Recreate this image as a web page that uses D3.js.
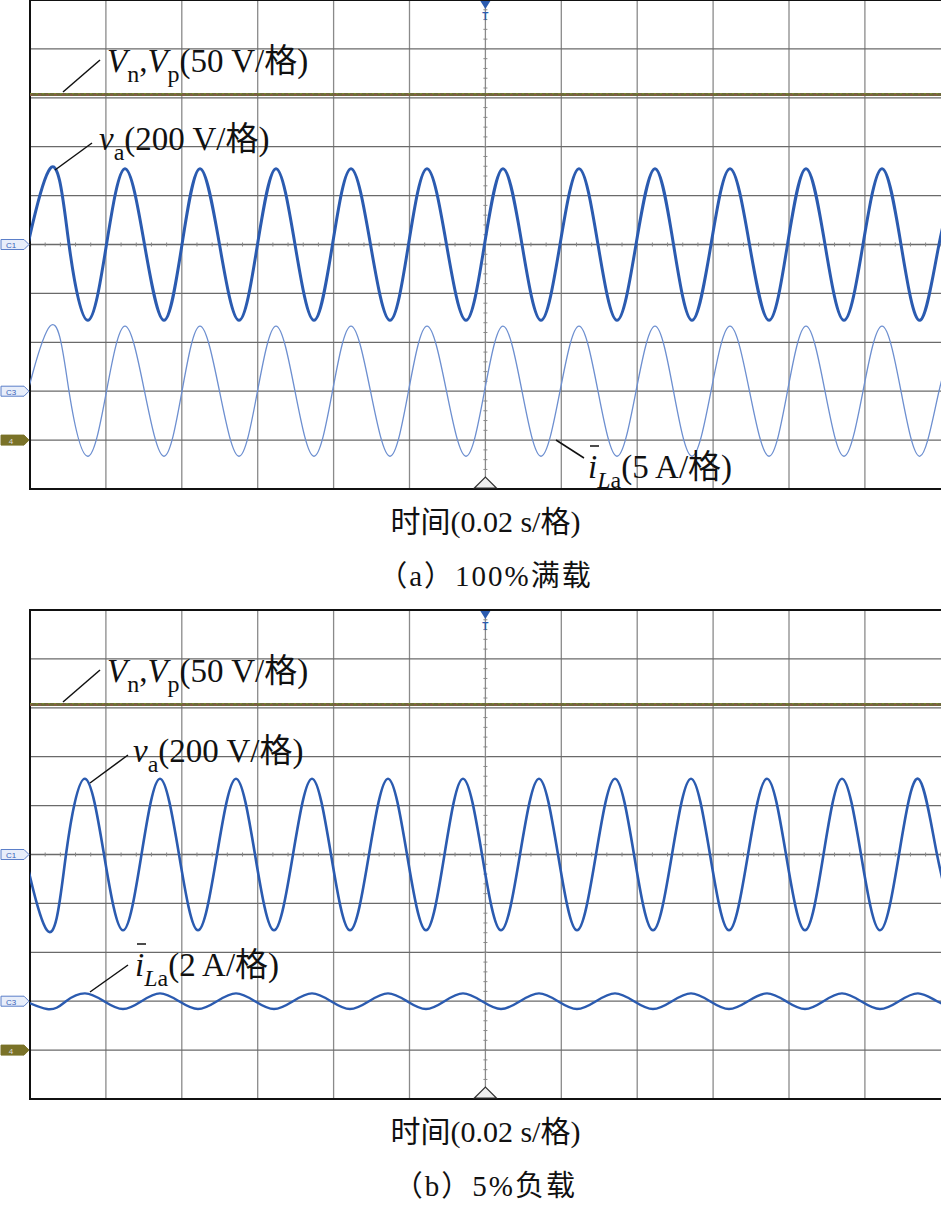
<!DOCTYPE html>
<html><head><meta charset="utf-8">
<script src="https://cdn.jsdelivr.net/npm/d3@7"></script>
<style>body{margin:0;background:#fff}svg{display:block}</style>
</head><body><svg id="c" width="941" height="1207"></svg>
<script>
const vaPeaksA   = [50,125,200,276,351,427,503,579,655,730,806,882];
const vaTroughsA = [88,164,239,314,390,466,541,617,692,769,844,920];
const vaPeaksB   = [85,160,236,312,388,463,539,615,691,767,842,918];
const vaTroughsB = [47,123,198,274,350,426,501,577,653,729,805,880];
const vaAmp = 1.55;
const iAmpA = 1.33, iAmpB = 0.16, iOffset = -3;
const vnLevel = 3.07;
const panels = [
  {top:0,   peaks:vaPeaksA, troughs:vaTroughsA, iAmp:iAmpA, iLabel:"(5 A/格)", caption:"（a）100%满载"},
  {top:610, peaks:vaPeaksB, troughs:vaTroughsB, iAmp:iAmpB, iLabel:"(2 A/格)", caption:"（b）5%负载"}
];
const svg = d3.select("#c");
const L=30, R=941, H=489;
const x = d3.scaleLinear().domain([0,12]).range([L, L+75.9*12]);
const pxToDiv = p => (p-L)/75.9;

function series(peaks, troughs, amp, off){
  let pts = peaks.map(p=>({t:pxToDiv(p), v:off+amp}))
    .concat(troughs.map(p=>({t:pxToDiv(p), v:off-amp})));
  pts.sort((a,b)=>a.t-b.t);
  const out=[];
  const f=pts[0], s=pts[1], l=pts[pts.length-1], m=pts[pts.length-2];
  out.push({t:f.t-(s.t-f.t), v:s.v});
  pts.forEach((p,i)=>{ out.push(p); if(i<pts.length-1) out.push({t:(p.t+pts[i+1].t)/2, v:off}); });
  out.push({t:l.t+(l.t-m.t)/2, v:off});
  out.push({t:l.t+(l.t-m.t), v:m.v});
  return out;
}

panels.forEach((P,pi)=>{
  const y = d3.scaleLinear().domain([-5,5]).range([P.top+H, P.top]);
  const g = svg.append("g");
  const cid="clip"+pi;
  g.append("clipPath").attr("id",cid).append("rect").attr("x",L).attr("y",P.top).attr("width",R-L).attr("height",H);
  d3.range(1,12).forEach(i=>g.append("line").attr("x1",x(i)).attr("x2",x(i)).attr("y1",P.top).attr("y2",P.top+H).attr("stroke","#8a8a8a").attr("stroke-width",1.3));
  d3.range(-4,5).forEach(i=>g.append("line").attr("x1",L).attr("x2",R).attr("y1",y(i)).attr("y2",y(i)).attr("stroke","#6a6a6a").attr("stroke-width",1.3));
  d3.range(0,12.01,0.2).forEach(t=>g.append("line").attr("x1",x(t)).attr("x2",x(t)).attr("y1",y(0)-2).attr("y2",y(0)+2).attr("stroke","#888"));
  d3.range(-5,5.01,0.2).forEach(v=>g.append("line").attr("x1",x(6)-2).attr("x2",x(6)+2).attr("y1",y(v)).attr("y2",y(v)).attr("stroke","#888"));
  g.append("path").attr("d",`M${R},${P.top}H${L}V${P.top+H}H${R}`).attr("fill","none").attr("stroke","#111").attr("stroke-width",2);
  const cg = g.append("g").attr("clip-path",`url(#${cid})`);
  const line = d3.line().x(d=>x(d.t)).y(d=>y(d.v)).curve(d3.curveNatural);
  cg.append("line").attr("x1",L).attr("x2",R).attr("y1",y(vnLevel)).attr("y2",y(vnLevel)).attr("stroke","#6e6a3a").attr("stroke-width",3);
  cg.append("line").attr("x1",L).attr("x2",R).attr("y1",y(vnLevel)+0.6).attr("y2",y(vnLevel)+0.6).attr("stroke","#9a5050").attr("stroke-width",1).attr("stroke-dasharray","3,5");
  cg.append("line").attr("x1",L).attr("x2",R).attr("y1",y(vnLevel)-0.8).attr("y2",y(vnLevel)-0.8).attr("stroke","#7a8a30").attr("stroke-width",1).attr("stroke-dasharray","2,4");
  cg.append("path").attr("d",line(series(P.peaks,P.troughs,vaAmp,0))).attr("fill","none").attr("stroke","#2b5bb0").attr("stroke-width",pi==0?3:2.6);
  const ip = series(P.peaks,P.troughs,P.iAmp,iOffset);
  cg.append("path").attr("d",line(ip)).attr("fill","none").attr("stroke",pi==0?"#6d8fd0":"#2b5bb0").attr("stroke-width",pi==0?1.3:2.4);
  const mk=(yy,fill,stroke,txt,tc)=>{
    g.append("path").attr("d",`M1,${yy-5}H24L29,${yy}L24,${yy+5}H1Z`).attr("fill",fill).attr("stroke",stroke).attr("stroke-width",1);
    g.append("text").attr("x",11).attr("y",yy+3.5).attr("text-anchor","middle").attr("font-size",8).attr("font-family","Liberation Sans").attr("fill",tc).text(txt);
  };
  mk(y(0),"#e8eefa","#5b7fc9","C1","#3a63b8");
  mk(y(-3),"#e8eefa","#5b7fc9","C3","#3a63b8");
  mk(y(-4),"#7a7228","#7a7228","4","#ddd");
  g.append("path").attr("d",`M${x(6)-5},${P.top+1}L${x(6)+5},${P.top+1}L${x(6)},${P.top+9}Z`).attr("fill","#2b5bb0");
  g.append("text").attr("x",x(6)).attr("y",P.top+20).attr("text-anchor","middle").attr("font-size",10).attr("font-weight","bold").attr("fill","#2b5bb0").attr("font-family","Liberation Sans").text("T");
  g.append("path").attr("d",`M${x(6)-11},${P.top+H-1}L${x(6)},${P.top+H-12}L${x(6)+11},${P.top+H-1}Z`).attr("fill","#eee").attr("stroke","#333").attr("stroke-width",1.2);

  const ff="Liberation Serif, Noto Sans CJK SC";
  const lbl=(tx,ty,parts)=>{
    const t=g.append("text").attr("x",tx).attr("y",ty).attr("font-family",ff).attr("font-size",33).attr("fill","#111");
    parts.forEach(p=>{const s=t.append("tspan").text(p.s);
      if(p.i) s.attr("font-style","italic");
      if(p.sub){s.attr("font-size",24).attr("dy",10);} if(p.small) s.attr("font-size",24); if(p.up) s.attr("dy",-10);});
    return t;
  };
  const lead=(x1,y1,x2,y2)=>g.append("line").attr("x1",x1).attr("y1",y1).attr("x2",x2).attr("y2",y2).attr("stroke","#111").attr("stroke-width",1.5);
  lead(63,P.top+92,100,P.top+60);
  lbl(107,P.top+72,[{s:"V",i:1},{s:"n",sub:1},{s:",",up:1},{s:"V",i:1},{s:"p",sub:1},{s:"(50 V/格)",up:1}]);
  const iParts=[{s:"i",i:1},{s:"L",i:1,sub:1},{s:"a",small:1},{s:P.iLabel,up:1}];
  if(pi==0){
    lead(55,170,92,143);
    lbl(99,150,[{s:"v",i:1},{s:"a",sub:1},{s:"(200 V/格)",up:1}]);
    lead(556,440,584,458);
    lbl(588,478,iParts);
    g.append("line").attr("x1",590).attr("x2",599).attr("y1",446).attr("y2",446).attr("stroke","#111").attr("stroke-width",1.5);
  } else {
    lead(90,P.top+173,128,P.top+145);
    lbl(133,P.top+152,[{s:"v",i:1},{s:"a",sub:1},{s:"(200 V/格)",up:1}]);
    lead(90,P.top+382,128,P.top+355);
    lbl(135,P.top+366,iParts);
    g.append("line").attr("x1",137).attr("x2",146).attr("y1",P.top+334).attr("y2",P.top+334).attr("stroke","#111").attr("stroke-width",1.5);
  }
  g.append("text").attr("x",x(6)).attr("y",P.top+H+43).attr("text-anchor","middle").attr("font-family",ff).attr("font-size",30).attr("fill","#111")
    .text("时间(0.02 s/格)");
  g.append("text").attr("x",x(6)).attr("y",P.top+H+97).attr("text-anchor","middle").attr("font-family",ff).attr("font-size",29).attr("letter-spacing",2).attr("fill","#111")
    .text(P.caption);
});
</script></body></html>
